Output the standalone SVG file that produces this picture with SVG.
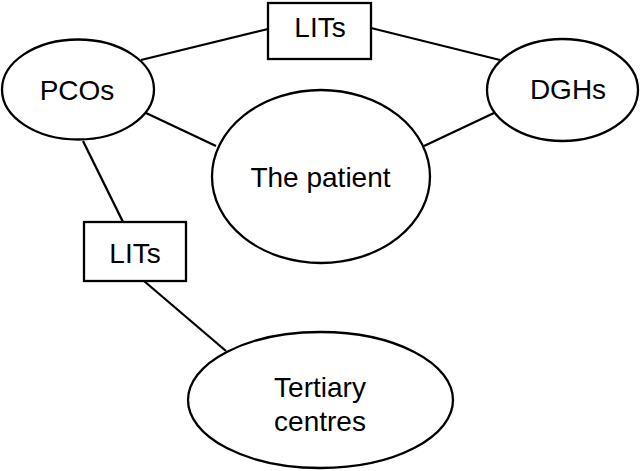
<svg xmlns="http://www.w3.org/2000/svg" width="640" height="471" viewBox="0 0 640 471">
<style>
.n{fill:#fff;stroke:#000;stroke-width:2.3}
.c line{stroke:#000;stroke-width:2.3}
text{font-family:"Liberation Sans",Arial,sans-serif;font-size:28px;fill:#000;text-anchor:middle}
</style>
<rect width="640" height="471" fill="#fff"/>
<g class="c" id="connectors">
<line x1="141" y1="60" x2="268" y2="29"/>
<line x1="371" y1="28" x2="500" y2="60"/>
<line x1="146" y1="113" x2="216" y2="146"/>
<line x1="494" y1="113" x2="424" y2="146"/>
<line x1="83" y1="141" x2="123" y2="222"/>
<line x1="144" y1="281" x2="226" y2="351"/>
</g>
<g id="pcos"><ellipse class="n" cx="78" cy="89.5" rx="76" ry="50"/><text x="77" y="100">PCOs</text></g>
<g id="dghs"><ellipse class="n" cx="562.5" cy="90" rx="75.5" ry="51"/><text x="568" y="99">DGHs</text></g>
<g id="patient"><ellipse class="n" cx="321" cy="176.5" rx="109" ry="86.5"/><text x="320.5" y="187">The patient</text></g>
<g id="lits-top"><rect class="n" x="268" y="3" width="103" height="56"/><text x="320" y="37">LITs</text></g>
<g id="lits-left"><rect class="n" x="84" y="222" width="102" height="59"/><text x="135" y="263">LITs</text></g>
<g id="tertiary"><ellipse class="n" cx="320.5" cy="400" rx="132.5" ry="68"/><text x="320" y="397">Tertiary</text><text x="320" y="431">centres</text></g>
</svg>
